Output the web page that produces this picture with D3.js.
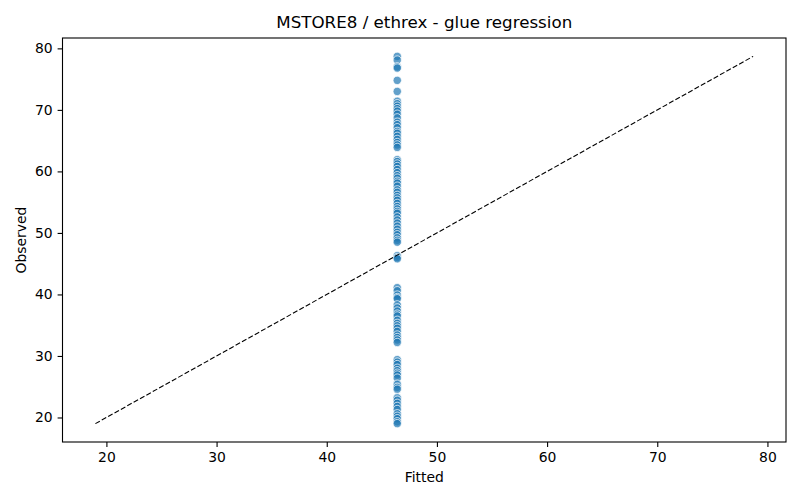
<!DOCTYPE html>
<html>
<head>
<meta charset="utf-8">
<title>MSTORE8 / ethrex - glue regression</title>
<script src="https://cdn.jsdelivr.net/npm/d3@7"></script>
<style>
  body { margin: 0; background: #fff; }
  text { font-family: "DejaVu Sans", sans-serif; fill: #000; }
</style>
</head>
<body>
<script>
// fitted value (intercept-only model, same for every point)
var fitted = 46.4;

// observed values, read top to bottom off the picture
var observed = [
  78.7, 78.1, 77.0, 76.8, 74.8, 73.0,
  71.4, 71.0, 70.6, 70.2, 69.8, 69.3, 68.7, 68.0, 67.6, 67.1, 66.5, 66.2,
  65.7, 65.2, 64.7, 64.3, 63.9,
  61.9, 61.6, 61.2, 60.8, 60.3, 59.8, 59.3, 58.9, 58.4, 58.1, 57.6, 57.0,
  56.6, 56.1, 55.7, 55.3, 54.8, 54.3, 53.9, 53.5, 53.2, 52.6, 52.1, 51.6,
  51.1, 50.6, 50.1, 49.7, 49.2, 48.8, 48.5,
  46.3, 46.0, 45.8,
  41.1, 40.6, 39.9, 39.5, 39.3, 38.3, 37.8, 37.3, 36.8, 36.5, 35.8, 35.3,
  34.9, 34.5, 34.0, 33.4, 33.0, 32.6, 32.2,
  29.4, 29.0, 28.6, 28.0, 27.6, 27.2, 26.9, 26.4, 25.4, 24.9, 24.6,
  23.2, 22.8, 22.3, 21.8, 21.3, 20.6, 20.2, 19.8, 19.3, 19.0
];

// y = x reference line
var lineRange = [19.0, 78.7];
var ticks = [20, 30, 40, 50, 60, 70, 80];

var W = 800, H = 500;
var m = {left: 62.5, right: 786, top: 38, bottom: 442};

var svg = d3.select("body").append("svg")
  .attr("width", W)
  .attr("height", H);

// matplotlib style 5% margins
var span = lineRange[1] - lineRange[0];
var dom = [lineRange[0] - span * 0.05, lineRange[1] + span * 0.05];

var x = d3.scaleLinear().domain(dom).range([m.left, m.right]);
var y = d3.scaleLinear().domain(dom).range([m.bottom, m.top]);

var xAxis = svg.append("g")
  .attr("transform", "translate(0," + m.bottom + ")")
  .call(d3.axisBottom(x).tickValues(ticks).tickSize(4.9).tickPadding(4.9).tickFormat(d3.format("d")));
var yAxis = svg.append("g")
  .attr("transform", "translate(" + m.left + ",0)")
  .call(d3.axisLeft(y).tickValues(ticks).tickSize(4.9).tickPadding(4.9).tickFormat(d3.format("d")));

[xAxis, yAxis].forEach(function(a){
  a.select(".domain").remove();
  a.selectAll(".tick line").attr("stroke", "#000").attr("stroke-width", 1.1);
  a.selectAll(".tick text").style("font-family", "DejaVu Sans, sans-serif").style("font-size", "13.9px").attr("fill", "#000");
});

// points
svg.append("g").selectAll("circle").data(observed).enter().append("circle")
  .attr("cx", function(d){ return x(fitted); })
  .attr("cy", function(d){ return y(d); })
  .attr("r", 4.2)
  .attr("fill", "#1f77b4")
  .attr("fill-opacity", 0.7)
  .attr("stroke", "#fff")
  .attr("stroke-width", 0.75);

// dashed y=x line
svg.append("line")
  .attr("x1", x(lineRange[0])).attr("y1", y(lineRange[0]))
  .attr("x2", x(lineRange[1])).attr("y2", y(lineRange[1]))
  .attr("stroke", "#000")
  .attr("stroke-width", 1.1)
  .attr("stroke-dasharray", "5.1,2.2");

// frame
svg.append("rect")
  .attr("x", m.left).attr("y", m.top)
  .attr("width", m.right - m.left).attr("height", m.bottom - m.top)
  .attr("fill", "none").attr("stroke", "#000").attr("stroke-width", 1.1);

// title and labels
svg.append("text")
  .attr("x", (m.left + m.right) / 2).attr("y", 28)
  .attr("text-anchor", "middle")
  .style("font-size", "16.7px")
  .text("MSTORE8 / ethrex - glue regression");

svg.append("text")
  .attr("x", (m.left + m.right) / 2).attr("y", 482)
  .attr("text-anchor", "middle")
  .style("font-size", "13.9px")
  .text("Fitted");

svg.append("text")
  .attr("transform", "translate(26," + ((m.top + m.bottom) / 2) + ") rotate(-90)")
  .attr("text-anchor", "middle")
  .style("font-size", "13.9px")
  .text("Observed");
</script>
</body>
</html>
